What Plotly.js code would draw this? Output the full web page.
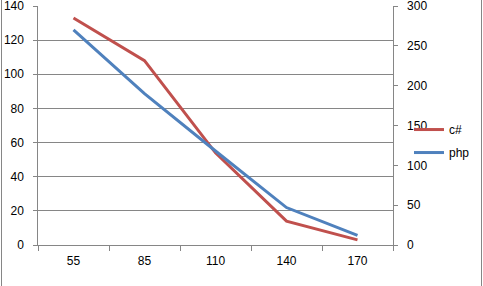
<!DOCTYPE html>
<html>
<head>
<meta charset="utf-8">
<script src="https://cdn.plot.ly/plotly-3.0.1.min.js"></script>
<style>
html,body{margin:0;padding:0;background:#fff;}
#wrap{position:relative;width:483px;height:286px;}
#chart{width:483px;height:286px;}
#bl{position:absolute;left:1px;top:0;width:1px;height:286px;background:#868686;}
#br{position:absolute;left:481px;top:0;width:1px;height:286px;background:#868686;}
</style>
</head>
<body>
<div id="wrap"><div id="chart"></div><div id="bl"></div><div id="br"></div></div>
<script>
const categories = ['55', '85', '110', '140', '170'];
const csharpValues = [133, 108, 54, 14, 3];
const phpValues = [270, 190, 118, 47, 12];
const leftTicks = [0, 20, 40, 60, 80, 100, 120, 140];
const rightTicks = [0, 50, 100, 150, 200, 250, 300];

const font = {family: 'Liberation Sans, Arial, sans-serif', size: 12, color: '#000'};
const axisColor = '#868686';

const traces = [
  {x: categories, y: csharpValues, name: 'c#', type: 'scatter', mode: 'lines',
   line: {color: '#C0504D', width: 3}, yaxis: 'y', legendgroup: 'a'},
  {x: categories, y: phpValues, name: 'php', type: 'scatter', mode: 'lines',
   line: {color: '#4F81BD', width: 3}, yaxis: 'y2', legendgroup: 'b'}
];

const layout = {
  width: 483, height: 286,
  margin: {l: 38, r: 90, t: 6, b: 41, pad: 0},
  paper_bgcolor: '#fff', plot_bgcolor: '#fff',
  font: font,
  showlegend: true,
  legend: {x: 1.045, y: 0.435, xanchor: 'left', yanchor: 'middle',
           font: font, traceorder: 'grouped', tracegroupgap: 4,
           bgcolor: 'rgba(0,0,0,0)'},
  xaxis: {type: 'category', range: [-0.5, 4.5], showline: true, linecolor: axisColor,
          linewidth: 1, ticks: 'outside', tickson: 'boundaries', ticklen: 5,
          tickcolor: axisColor, showgrid: false, zeroline: false,
          tickfont: font, ticklabelstandoff: 5, fixedrange: true},
  yaxis: {range: [0, 140], tickvals: leftTicks, ticktext: leftTicks.map(v => v + '  '),
          showline: true, linecolor: axisColor, ticklabeloverflow: 'allow',
          linewidth: 1, ticks: 'outside', ticklen: 4, tickcolor: axisColor,
          showgrid: true, gridcolor: axisColor, gridwidth: 1, zeroline: false,
          tickfont: font},
  yaxis2: {range: [0, 300], tickvals: rightTicks, ticktext: rightTicks.map(v => '  ' + v),
           overlaying: 'y', side: 'right', ticklabeloverflow: 'allow',
           showline: true, linecolor: axisColor, linewidth: 1, ticks: 'outside',
           ticklen: 4, tickcolor: axisColor, showgrid: false, zeroline: false,
           tickfont: font}
};

Plotly.newPlot('chart', traces, layout, {displayModeBar: false, staticPlot: true});
</script>
</body>
</html>
